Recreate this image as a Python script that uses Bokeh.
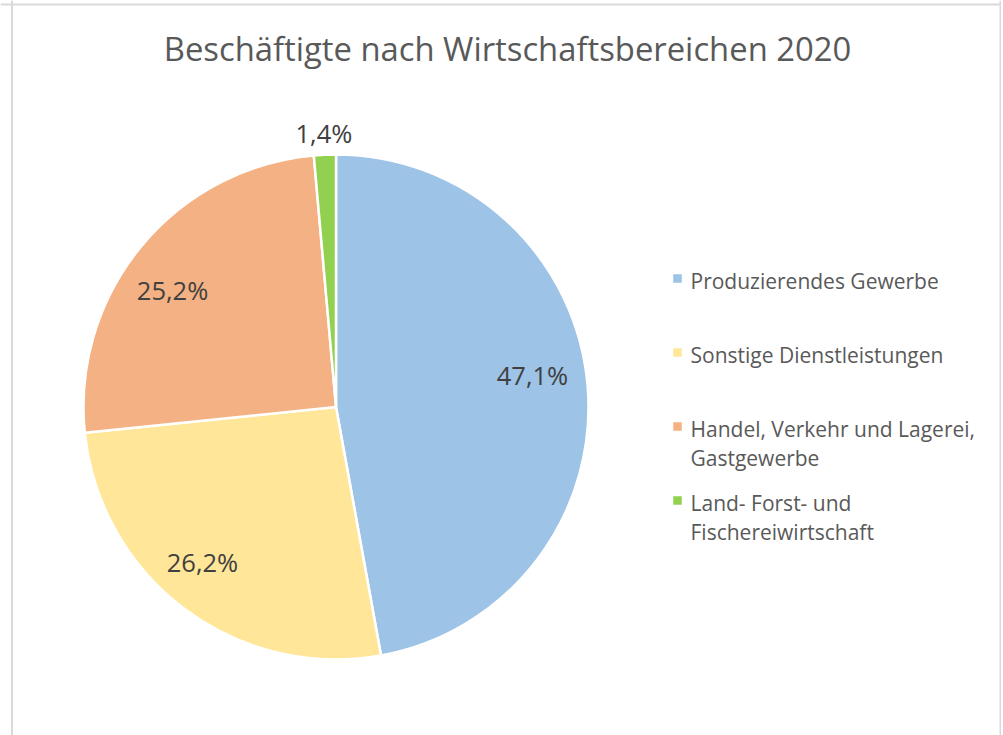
import math
from bokeh.plotting import figure
from bokeh.models import Range1d, Label, ColumnDataSource, Span
from bokeh.core.properties import value
from bokeh.embed import file_html
from bokeh.resources import INLINE

title = "Beschäftigte nach Wirtschaftsbereichen 2020"
categories = ["Produzierendes Gewerbe", "Sonstige Dienstleistungen",
              "Handel, Verkehr und Lagerei,\nGastgewerbe", "Land- Forst- und\nFischereiwirtschaft"]
shares = [47.1, 26.2, 25.2, 1.4]
share_labels = ["47,1%", "26,2%", "25,2%", "1,4%"]
colors = ["#9DC3E6", "#FFE699", "#F4B183", "#92D050"]

W, H = 1001, 735
FONT = "Open Sans"

p = figure(width=W, height=H, output_backend="svg", toolbar_location=None,
           x_range=Range1d(0, W), y_range=Range1d(0, H), min_border=0)
p.axis.visible = False
p.grid.visible = False
p.outline_line_color = None
p.background_fill_color = "white"

# chart-area border (left, right, top; bottom lies outside the window)
for loc, dim in [(11.5, "height"), (1000, "height"), (731, "width")]:
    p.add_layout(Span(location=loc, dimension=dim, line_color="#d9d9d9",
                      line_width=2))

cx, cy, r = 335.5, 328.5, 252.5
total = sum(shares)
starts, ends, lx, ly = [], [], [], []
label_r = [0.788, 0.809, 0.797, 1.086]
label_rot = [4.0, -3.9, 3.85, 0.0]
cum = 0.0
for i, s in enumerate(shares):
    a0 = math.pi / 2 - 2 * math.pi * cum / total
    a1 = math.pi / 2 - 2 * math.pi * (cum + s) / total
    starts.append(a0)
    ends.append(a1)
    mid = (a0 + a1) / 2 + math.radians(label_rot[i])
    lx.append(cx + r * label_r[i] * math.cos(mid))
    ly.append(cy + r * label_r[i] * math.sin(mid))
    cum += s

src = ColumnDataSource(dict(start=starts, end=ends, color=colors,
                            lx=lx, ly=ly, lab=share_labels))
p.wedge(x=cx, y=cy, radius=r, start_angle="start", end_angle="end",
        direction="clock", fill_color="color", line_color="white",
        line_width=2.5, source=src)
p.text(x="lx", y="ly", text="lab", source=src, text_font=value(FONT),
       text_font_size="25.5px", text_color="#404040",
       text_align="center", text_baseline="middle")

# legend
leg_x = 677
leg_y0 = 457
pitch = 74
sq_y = [leg_y0 - i * pitch for i in range(len(categories))]
tx_y = [y + 12 for y in sq_y]
lsrc = ColumnDataSource(dict(sy=sq_y, ty=tx_y, color=colors, name=categories))
p.scatter(x=leg_x, y="sy", marker="square", size=8.5, fill_color="color",
          line_color=None, source=lsrc)
p.text(x=leg_x + 13, y="ty", text="name", source=lsrc, text_font=value(FONT),
       text_font_size="21px", text_color="#595959", text_align="left",
       text_baseline="top", text_line_height=1.05)

p.add_layout(Label(x=507, y=687, text=title, text_font=FONT,
                   text_font_size="32.8px", text_color="#595959",
                   text_align="center", text_baseline="middle"))

open("out.html", "w").write(file_html(p, INLINE))
